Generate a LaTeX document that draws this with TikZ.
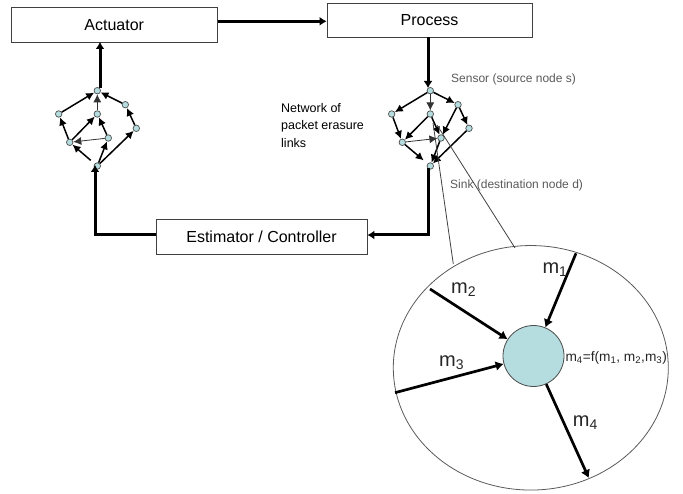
\documentclass[tikz,border=0pt]{standalone}
\usepackage{fontspec}
\setmainfont{Liberation Sans}
\usetikzlibrary{arrows.meta,shapes.geometric}
\definecolor{dotfill}{HTML}{B5DDE0}
\tikzset{
 boxn/.style={draw=black!75,line width=0.8pt,anchor=center,font=\fontsize{16}{18}\selectfont,inner sep=0pt},
 dot/.style={circle,draw=black!70,fill=dotfill,line width=0.7pt,minimum size=6.5pt,inner sep=0pt},
 thick arrow/.style={line width=3pt,-{Latex[length=7pt,width=9pt]}},
 thin arrow/.style={line width=1.5pt,-{Latex[length=8pt,width=8pt]}},
 fine arrow/.style={line width=0.8pt,draw=black!80,-{Latex[length=8pt,width=8pt]}},
 big arrow/.style={line width=2.7pt,-{Latex[length=8pt,width=10pt]}},
 lab/.style={anchor=west,inner sep=0pt,font=\fontsize{12}{14}\selectfont,text=black!65},
 mlab/.style={anchor=west,inner sep=0pt,font=\fontsize{20}{22}\selectfont,text=black!85},
 thinline/.style={line width=0.8pt,draw=black!75},
}
\begin{document}
\begin{tikzpicture}[x=1pt,y=-1pt]
\useasboundingbox (0,0) rectangle (683,494);
\node[boxn,minimum width=206pt,minimum height=34.5pt] (act) at (114.2,24.7) {Actuator};
\node[boxn,minimum width=205pt,minimum height=34pt] (proc) at (429.5,20) {Process};
\node[boxn,minimum width=211pt,minimum height=35pt] (est) at (261.5,236.5) {Estimator / Controller};
% left graph
\foreach \n/\x/\y in {lt/97.3/90.7,ll/58.7/114,lm/97.3/114,lr1/125.3/104.7,lr2/136.3/128.3,la/69.7/142.3,lb/108.3/138,lbot/97.3/166}
  \node[dot] (\n) at (\x,\y) {};
\draw[thin arrow] (ll)--(lt);
\draw[fine arrow] (lm)--(lt);
\draw[thin arrow] (lr1)--(lt);
\draw[thin arrow] (lr2)--(lr1);
\draw[thin arrow] (la)--(ll);
\draw[thin arrow] (la)--(lm);
\draw[thin arrow] (lb)--(lm);
\draw[fine arrow] (lb)--(la);
\draw[thin arrow,shorten <=5pt] (lbot)--(la);
\draw[thin arrow] (lbot)--(lb);
\draw[thin arrow] (lbot)--(lr2);
% right graph
\foreach \n/\x/\y in {rt/430.3/90.7,rl/391.7/114,rm/430.3/114,rr1/458/104.7,rr2/469/128.3,ra/402.3/142.3,rb/441/138,rbot/430.3/166}
  \node[dot] (\n) at (\x,\y) {};
\draw[thin arrow] (rt)--(rl);
\draw[fine arrow] (rt)--(rm);
\draw[thin arrow] (rt)--(rr1);
\draw[thin arrow] (rr1)--(rr2);
\draw[thin arrow] (rr1)--(rb);
\draw[thin arrow] (rl)--(ra);
\draw[thin arrow] (rm)--(ra);
\draw[thin arrow] (rm)--(rb);
\draw[fine arrow] (ra)--(rb);
\draw[thin arrow,shorten >=5pt] (ra)--(rbot);
\draw[thin arrow] (rb)--(rbot);
\draw[thin arrow] (rr2)--(rbot);
% main connectors
\coordinate (procout) at (428,37);
\coordinate (rtin) at (428,88);
\coordinate (rbotout) at (428,168);
\coordinate (rcorner) at (428,235);
\coordinate (lcorner) at (95,235);
\coordinate (lbotin) at (95,165);
\coordinate (ltout) at (100,88);
\coordinate (actin) at (100,42);
\draw[thick arrow] (act.east |- 0,21.3) -- (proc.west |- 0,21.3);
\draw[thick arrow] (procout) -- (rtin);
\draw[thick arrow] (rbotout) -- (rcorner) -- (est.east |- rcorner);
\draw[thick arrow] (est.west |- lcorner) -- (lcorner) -- (lbotin);
\draw[thick arrow] (ltout) -- (actin);
% texts
\node[lab] (s) at (451,79) {Sensor (source node s)};
\node[lab] (k) at (450,185) {Sink (destination node d)};
\node[anchor=north west,align=left,inner sep=0pt,font=\fontsize{12.5}{17.5}\selectfont] (net) at (281,103) {Network of\\packet erasure\\links};
% zoom
\node[draw=black!65,line width=0.8pt,ellipse,minimum width=275pt,minimum height=244.5pt,inner sep=0pt] (big) at (530.8,367.8) {};
\node[circle,draw=black!70,fill=dotfill,line width=0.8pt,minimum size=61pt,inner sep=0pt] (hub) at (533.5,356) {};
\coordinate (z1a) at (433,123);
\coordinate (z1b) at (453.3,264);
\coordinate (z2a) at (437,125);
\coordinate (z2b) at (515,248);
\draw[thinline] (z1a) -- (z1b);
\draw[thinline] (z2a) -- (z2b);
\coordinate (m1s) at (576,253.3);
\coordinate (m2s) at (430,289);
\coordinate (m3s) at (395,392.7);
\coordinate (m4e) at (588.8,478);
\draw[big arrow] (m1s) -- (hub);
\draw[big arrow] (m2s) -- (hub);
\draw[big arrow] (m3s) -- (hub);
\draw[big arrow] (hub) -- (m4e);
\node[mlab] (l1) at (542.3,270) {m\textsubscript{1}};
\node[mlab] (l2) at (451,290) {m\textsubscript{2}};
\node[mlab] (l3) at (439,363) {m\textsubscript{3}};
\node[mlab] (l4) at (572.7,423) {m\textsubscript{4}};
\node[anchor=west,inner sep=0pt,font=\fontsize{13.7}{15}\selectfont,text=black!85] (fm) at (565.3,358) {m\textsubscript{4}=f(m\textsubscript{1}, m\textsubscript{2},m\textsubscript{3})};
\end{tikzpicture}
\end{document}
